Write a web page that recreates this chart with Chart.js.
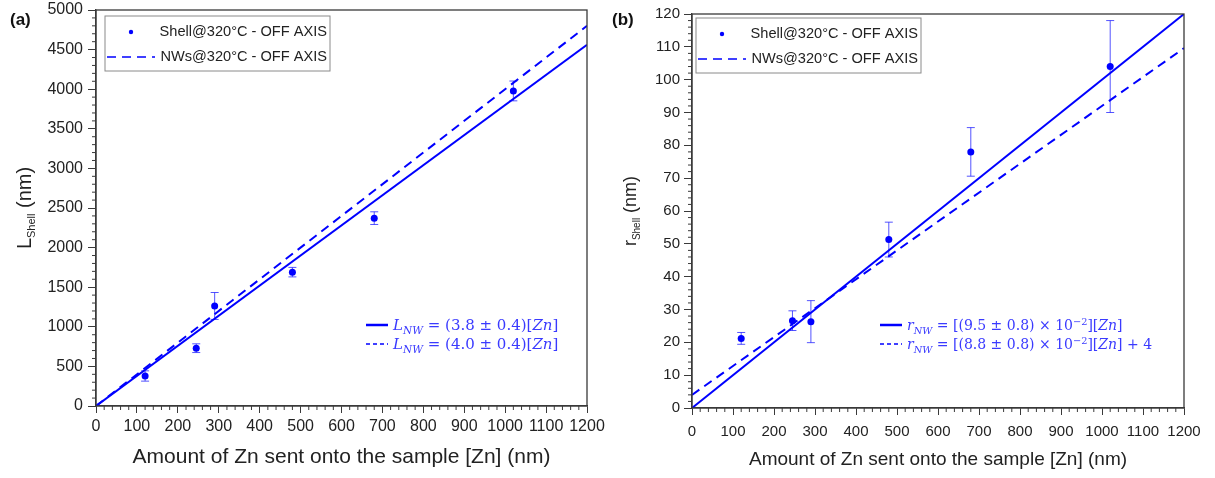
<!DOCTYPE html>
<html lang="en">
<head>
    <meta charset="UTF-8">
    <title>Shell length and radius vs Zn</title>
    <style>
        * { margin: 0; padding: 0; box-sizing: border-box; }
        body { background: #fff; width: 1215px; height: 478px; overflow: hidden; position: relative; }
        .panel { position: absolute; top: 0; }
    </style>
    <script src="https://cdn.jsdelivr.net/npm/chart.js"></script>
</head>
<body>
    <canvas id="chartA" class="panel" width="605" height="478" style="left:0"></canvas>
    <canvas id="chartB" class="panel" width="610" height="478" style="left:605px"></canvas>

    <script>
        // amount of Zn sent (nm)
        const zinc = [120, 245, 290, 480, 680, 1020];

        // panel (a): shell length
        const lengthShell = [379, 730, 1263, 1690, 2372, 3978];
        const lengthErr = [65, 55, 170, 60, 80, 125];

        // panel (b): shell radius
        const radiusShell = [21.2, 26.6, 26.3, 51.3, 78, 104];
        const radiusErr = [1.8, 3, 6.4, 5.3, 7.4, 14];

        // fitted lines, read at both ends of the x range
        const fitX = [0, 1200];
        const lengthFitShell = [0, 4560];
        const lengthFitNW = [0, 4800];
        const radiusFitShell = [0, 120];
        const radiusFitNW = [4, 109.6];

        const BLUE = '#0000ff';
        const TEXT_BLUE = '#3a3aff';
        const AXIS = '#3a3a3a';
        const SANS = '"Liberation Sans", Arial, sans-serif';
        const SERIF = '"DejaVu Serif", "Liberation Serif", serif';

        const pts = (xs, ys) => xs.map((x, i) => ({ x: x, y: ys[i] }));

        // draws a list of text runs, with italic / subscript / superscript
        function drawRuns(ctx, runs, x, y, size) {
            let cx = x;
            runs.forEach(r => {
                const s = (r.sub || r.sup) ? size * 0.7 : size;
                ctx.font = (r.i ? 'italic ' : '') + s + 'px ' + SERIF;
                let dy = 0;
                if (r.sub) dy = size * 0.25;
                if (r.sup) dy = -size * 0.38;
                ctx.fillText(r.t, cx, y + dy);
                cx += ctx.measureText(r.t).width;
            });
        }

        const extras = {
            id: 'extras',
            beforeDatasetsDraw(chart) {
                const o = chart.options.plugins.extras;
                const ctx = chart.ctx;
                const xs = chart.scales.x, ys = chart.scales.y;
                ctx.save();
                ctx.strokeStyle = 'rgba(40,40,255,0.8)';
                ctx.lineWidth = 1;
                o.values.forEach((v, i) => {
                    const px = xs.getPixelForValue(o.xs[i]);
                    const top = ys.getPixelForValue(v + o.errs[i]);
                    const bot = ys.getPixelForValue(v - o.errs[i]);
                    ctx.beginPath();
                    ctx.moveTo(px, top); ctx.lineTo(px, bot);
                    ctx.moveTo(px - 4, top); ctx.lineTo(px + 4, top);
                    ctx.moveTo(px - 4, bot); ctx.lineTo(px + 4, bot);
                    ctx.stroke();
                });
                ctx.restore();
            },
            afterDraw(chart) {
                const o = chart.options.plugins.extras;
                const ctx = chart.ctx;
                const a = chart.chartArea;
                const xs = chart.scales.x, ys = chart.scales.y;
                ctx.save();

                // frame
                ctx.strokeStyle = AXIS;
                ctx.lineWidth = 1.3;
                ctx.strokeRect(a.left, a.top, a.right - a.left, a.bottom - a.top);

                // minor ticks
                ctx.lineWidth = 1;
                ctx.beginPath();
                for (let v = xs.min; v <= xs.max; v += o.xMinor) {
                    if (v % 100 === 0) continue;
                    const p = xs.getPixelForValue(v);
                    ctx.moveTo(p, a.bottom); ctx.lineTo(p, a.bottom + 4);
                }
                for (let v = ys.min; v <= ys.max + 1e-9; v += o.yMinor) {
                    if (Math.abs(v / o.yMajor - Math.round(v / o.yMajor)) < 1e-6) continue;
                    const p = ys.getPixelForValue(v);
                    ctx.moveTo(a.left, p); ctx.lineTo(a.left - 4, p);
                }
                ctx.stroke();

                // panel label
                ctx.fillStyle = '#111';
                ctx.font = 'bold 17px ' + SANS;
                ctx.textBaseline = 'middle';
                ctx.textAlign = 'left';
                ctx.fillText(o.panel, o.panelX, 20);

                // x title
                ctx.fillStyle = '#222';
                ctx.font = o.xTitleSize + 'px ' + SANS;
                ctx.textAlign = 'center';
                ctx.fillText('Amount of Zn sent onto the sample [Zn] (nm)', (a.left + a.right) / 2, o.xTitleY);

                // y title with subscript
                ctx.save();
                ctx.translate(o.yTitleX, (a.top + a.bottom) / 2);
                ctx.rotate(-Math.PI / 2);
                ctx.textAlign = 'left';
                const big = o.yTitleSize + 'px ' + SANS;
                const small = o.ySubSize + 'px ' + SANS;
                ctx.font = big;
                const w1 = ctx.measureText(o.yLetter).width;
                ctx.font = small;
                const w2 = ctx.measureText('Shell').width;
                ctx.font = big;
                const w3 = ctx.measureText(' (nm)').width;
                const sx = -(w1 + w2 + w3) / 2;
                ctx.fillText(o.yLetter, sx, 0);
                ctx.font = small;
                ctx.fillText('Shell', sx + w1, o.yTitleSize * 0.33);
                ctx.font = big;
                ctx.fillText(' (nm)', sx + w1 + w2, 0);
                ctx.restore();

                // series legend box
                const lx = a.left + o.legendDx, ly = a.top + o.legendDy;
                ctx.strokeStyle = '#8a8a8a';
                ctx.lineWidth = 1;
                ctx.fillStyle = '#fff';
                ctx.fillRect(lx, ly, 225, 55);
                ctx.strokeRect(lx, ly, 225, 55);
                ctx.fillStyle = BLUE;
                ctx.beginPath();
                ctx.arc(lx + 26, ly + 16, 2.2, 0, Math.PI * 2);
                ctx.fill();
                ctx.strokeStyle = BLUE;
                ctx.lineWidth = 1.6;
                ctx.setLineDash([9, 6]);
                ctx.beginPath();
                ctx.moveTo(lx + 2, ly + 41); ctx.lineTo(lx + 50, ly + 41);
                ctx.stroke();
                ctx.setLineDash([]);
                ctx.fillStyle = '#222';
                ctx.font = '14.6px ' + SANS;
                ctx.textAlign = 'right';
                ctx.fillText('Shell@320°C - OFF AXIS', lx + 222, ly + 16);
                ctx.fillText('NWs@320°C - OFF AXIS', lx + 222, ly + 41);

                // equation legend
                ctx.textAlign = 'left';
                ctx.textBaseline = 'alphabetic';
                ctx.fillStyle = TEXT_BLUE;
                ctx.strokeStyle = BLUE;
                const ex = o.eqX, ey = o.eqY;
                ctx.lineWidth = 2.5;
                ctx.beginPath();
                ctx.moveTo(ex, ey - 5); ctx.lineTo(ex + 22, ey - 5);
                ctx.stroke();
                ctx.lineWidth = 1.5;
                ctx.setLineDash([4, 3]);
                ctx.beginPath();
                ctx.moveTo(ex, ey + 14); ctx.lineTo(ex + 22, ey + 14);
                ctx.stroke();
                ctx.setLineDash([]);
                drawRuns(ctx, o.eq1, ex + 27, ey, o.eqSize);
                drawRuns(ctx, o.eq2, ex + 27, ey + 19, o.eqSize);

                ctx.restore();
            }
        };

        function makeChart(canvas, cfg) {
            return new Chart(canvas.getContext('2d'), {
                type: 'scatter',
                data: {
                    datasets: [
                        {
                            type: 'line',
                            data: pts(fitX, cfg.fitShell),
                            borderColor: BLUE,
                            borderWidth: 2,
                            pointRadius: 0,
                            fill: false
                        },
                        {
                            type: 'line',
                            data: pts(fitX, cfg.fitNW),
                            borderColor: BLUE,
                            borderWidth: 2,
                            borderDash: [9, 6],
                            pointRadius: 0,
                            fill: false
                        },
                        {
                            data: pts(zinc, cfg.values),
                            backgroundColor: BLUE,
                            borderWidth: 0,
                            pointRadius: 3.5
                        }
                    ]
                },
                options: {
                    responsive: false,
                    animation: false,
                    layout: { padding: cfg.padding },
                    plugins: {
                        legend: { display: false },
                        tooltip: { enabled: false },
                        extras: cfg.extras
                    },
                    scales: {
                        x: {
                            type: 'linear',
                            min: 0, max: 1200,
                            afterFit: s => { s.height = cfg.xAxisH; s.paddingLeft = 0; s.paddingRight = 0; },
                            ticks: {
                                stepSize: 100, color: '#222', maxRotation: 0,
                                font: { size: cfg.tickSize, family: SANS },
                                padding: cfg.xTickPad,
                                callback: v => String(v)
                            },
                            grid: { drawOnChartArea: false, tickLength: 7, color: AXIS },
                            border: { color: AXIS, width: 1.3 }
                        },
                        y: {
                            min: 0, max: cfg.yMax,
                            afterFit: s => { s.width = cfg.yAxisW; s.paddingTop = 0; s.paddingBottom = 0; },
                            ticks: {
                                stepSize: cfg.yStep, color: '#222',
                                font: { size: cfg.tickSize, family: SANS },
                                padding: cfg.yTickPad,
                                callback: v => String(v)
                            },
                            grid: { drawOnChartArea: false, tickLength: 8, color: AXIS },
                            border: { color: AXIS, width: 1.3 }
                        }
                    }
                },
                plugins: [extras]
            });
        }

        makeChart(document.getElementById('chartA'), {
            values: lengthShell,
            fitShell: lengthFitShell,
            fitNW: lengthFitNW,
            yMax: 5000, yStep: 500,
            yAxisW: 96, xAxisH: 72,
            tickSize: 16, xTickPad: 4, yTickPad: 5,
            padding: { top: 10, right: 18, left: 0, bottom: 0 },
            extras: {
                xs: zinc, values: lengthShell, errs: lengthErr,
                xMinor: 20, yMinor: 100, yMajor: 500,
                panel: '(a)', panelX: 10,
                xTitleY: 457, xTitleSize: 21,
                yTitleX: 25, yTitleSize: 20, ySubSize: 11, yLetter: 'L',
                legendDx: 9, legendDy: 6,
                eqX: 366, eqY: 330, eqSize: 15,
                eq1: [{ t: 'L', i: true }, { t: 'NW', i: true, sub: true }, { t: ' = (3.8 ± 0.4)[' }, { t: 'Zn', i: true }, { t: ']' }],
                eq2: [{ t: 'L', i: true }, { t: 'NW', i: true, sub: true }, { t: ' = (4.0 ± 0.4)[' }, { t: 'Zn', i: true }, { t: ']' }]
            }
        });

        makeChart(document.getElementById('chartB'), {
            values: radiusShell,
            fitShell: radiusFitShell,
            fitNW: radiusFitNW,
            yMax: 120, yStep: 10,
            yAxisW: 87, xAxisH: 70,
            tickSize: 15, xTickPad: 8, yTickPad: 4,
            padding: { top: 14, right: 31, left: 0, bottom: 0 },
            extras: {
                xs: zinc, values: radiusShell, errs: radiusErr,
                xMinor: 20, yMinor: 2, yMajor: 10,
                panel: '(b)', panelX: 7,
                xTitleY: 460, xTitleSize: 19,
                yTitleX: 26, yTitleSize: 18, ySubSize: 10, yLetter: 'r',
                legendDx: 4, legendDy: 4,
                eqX: 275, eqY: 330, eqSize: 14,
                eq1: [{ t: 'r', i: true }, { t: 'NW', i: true, sub: true }, { t: ' = [(9.5 ± 0.8) × 10' }, { t: '−2', sup: true }, { t: '][' }, { t: 'Zn', i: true }, { t: ']' }],
                eq2: [{ t: 'r', i: true }, { t: 'NW', i: true, sub: true }, { t: ' = [(8.8 ± 0.8) × 10' }, { t: '−2', sup: true }, { t: '][' }, { t: 'Zn', i: true }, { t: '] + 4' }]
            }
        });
    </script>
</body>
</html>
